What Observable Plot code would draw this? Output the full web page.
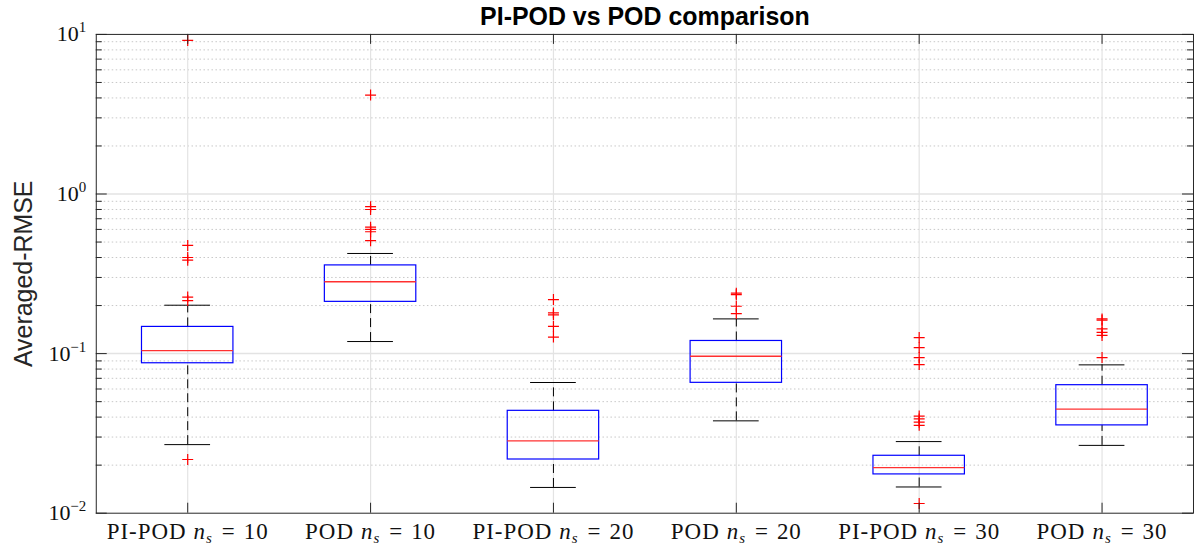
<!DOCTYPE html>
<html>
<head>
<meta charset="utf-8">
<script src="https://cdn.jsdelivr.net/npm/d3@7"></script>
<script src="https://cdn.jsdelivr.net/npm/@observablehq/plot@0.6"></script>
<style>
  html, body { margin: 0; padding: 0; background: #fff; overflow: hidden; }
  #chart svg { display: block; }
</style>
</head>
<body>
<div id="chart"></div>
<script>
// ---- data ----
const categories = ["PI-POD n_s = 10", "POD n_s = 10", "PI-POD n_s = 20", "POD n_s = 20", "PI-POD n_s = 30", "POD n_s = 30"];
const q1          = [0.0870, 0.211, 0.0217, 0.0656, 0.0175, 0.0355];
const medians     = [0.1044, 0.282, 0.0284, 0.0962, 0.0193, 0.0449];
const q3          = [0.147,  0.357, 0.0438, 0.120,  0.0229, 0.0634];
const whiskerLow  = [0.0269, 0.119, 0.0145, 0.0379, 0.0146, 0.0266];
const whiskerHigh = [0.201,  0.424, 0.0659, 0.165,  0.0281, 0.0850];
const outliers1 = [9.17, 0.476, 0.400, 0.385, 0.226, 0.215, 0.0217];
const outliers2 = [4.17, 0.833, 0.800, 0.620, 0.600, 0.580, 0.510];
const outliers3 = [0.218, 0.180, 0.175, 0.148, 0.127];
const outliers4 = [0.239, 0.234, 0.198, 0.178];
const outliers5 = [0.126, 0.109, 0.0944, 0.0854, 0.0406, 0.0390, 0.0372, 0.0355, 0.0115];
const outliers6 = [0.165, 0.162, 0.143, 0.136, 0.130, 0.0944];
const yTicks = [0.01, 0.1, 1, 10];
const yTickLabels = [["10", "\u22122"], ["10", "\u22121"], ["10", "0"], ["10", "1"]];
const title = "PI-POD vs POD comparison";
const yLabel = "Averaged-RMSE";

// ---- layout ----
const W = 1197, H = 550, ML = 96, MR = 1, MT = 34, MB = 36;
const pw = W - ML - MR, ph = H - MT - MB;
const step = pw / 6;
const decadePx = ph / 3;
const xpx = px => px / step;
const yUp = (v, px) => v * Math.pow(10, px / decadePx);

const idx = categories.map((_, i) => i);
const allOutliers = [outliers1, outliers2, outliers3, outliers4, outliers5, outliers6];
const outlierRows = allOutliers.flatMap((arr, i) => arr.map(v => ({pos: i + 1, v})));

const minors = [];
for (let e = -2; e <= 0; e++) for (let k = 2; k <= 9; k++) minors.push(k * Math.pow(10, e));

const axisColor = "#262626";
const plusSymbol = {
  draw(ctx, size) {
    const r = Math.sqrt(size / Math.PI);
    ctx.moveTo(-r, 0); ctx.lineTo(r, 0);
    ctx.moveTo(0, -r); ctx.lineTo(0, r);
  }
};

const chart = Plot.plot({
  width: W, height: H,
  marginLeft: ML, marginRight: MR, marginTop: MT, marginBottom: MB,
  style: {background: "#fff", fontFamily: "Liberation Serif"},
  x: {type: "linear", domain: [0.5, 6.5], axis: null},
  y: {type: "log", domain: [0.01, 10], axis: null},
  marks: [
    // grid
    Plot.ruleY(minors, {stroke: "#c8c8c8", strokeDasharray: "1.5,2.5", strokeWidth: 1}),
    Plot.ruleY([0.1, 1], {stroke: "#e3e3e3", strokeWidth: 1.5}),
    Plot.ruleX(idx, {x: i => i + 1, stroke: "#e3e3e3", strokeWidth: 1.2}),
    // whiskers (dashed)
    Plot.ruleX(idx, {x: i => i + 1, y1: i => q3[i], y2: i => whiskerHigh[i], stroke: "black", strokeDasharray: "9,5"}),
    Plot.ruleX(idx, {x: i => i + 1, y1: i => whiskerLow[i], y2: i => q1[i], stroke: "black", strokeDasharray: "9,5"}),
    // caps
    Plot.ruleY(idx, {y: i => whiskerHigh[i], x1: i => i + 1 - 0.125, x2: i => i + 1 + 0.125, stroke: "black"}),
    Plot.ruleY(idx, {y: i => whiskerLow[i], x1: i => i + 1 - 0.125, x2: i => i + 1 + 0.125, stroke: "black"}),
    // boxes
    Plot.rect(idx, {x1: i => i + 1 - 0.25, x2: i => i + 1 + 0.25, y1: i => q1[i], y2: i => q3[i], fill: "none", stroke: "#0000ff", strokeWidth: 1.2}),
    Plot.ruleY(idx, {y: i => medians[i], x1: i => i + 1 - 0.25, x2: i => i + 1 + 0.25, stroke: "#ff3030", strokeWidth: 1.4}),
    // outliers
    Plot.dot(outlierRows, {x: "pos", y: "v", symbol: plusSymbol, r: 5.5, fill: "none", stroke: "#ff0000", strokeWidth: 1.2}),
    // inner ticks: left / right
    Plot.ruleY(yTicks, {x1: 0.5, x2: 0.5 + xpx(11), stroke: axisColor}),
    Plot.ruleY(minors, {x1: 0.5, x2: 0.5 + xpx(6), stroke: axisColor}),
    Plot.ruleY(yTicks, {x1: 6.5 - xpx(11), x2: 6.5, stroke: axisColor}),
    Plot.ruleY(minors, {x1: 6.5 - xpx(6), x2: 6.5, stroke: axisColor}),
    // inner ticks: bottom / top
    Plot.ruleX(idx, {x: i => i + 1, y1: 0.01, y2: yUp(0.01, 10), stroke: axisColor}),
    Plot.ruleX(idx, {x: i => i + 1, y1: yUp(10, -10), y2: 10, stroke: axisColor}),
    // frame
    Plot.frame({stroke: axisColor, strokeWidth: 1}),
    // tick labels
    Plot.text(idx, {x: i => i + 1, y: 0.01, text: i => categories[i], dy: 19, fontSize: 23, fill: "#111", textAnchor: "middle", lineAnchor: "middle", className: "xlab"}),
    Plot.text(yTicks, {y: d => d, x: 0.5, text: (d, i) => yTickLabels[i].join("^"), dx: -10, textAnchor: "end", lineAnchor: "middle", fontSize: 22, fill: "#111", className: "ylab"}),
    // axis title & chart title
    Plot.text([yLabel], {frameAnchor: "left", dx: -72, rotate: -90, textAnchor: "middle", lineAnchor: "middle", fontSize: 25, fontFamily: "Liberation Sans", fill: "#262626"}),
    Plot.text([title], {frameAnchor: "top", dy: -17, textAnchor: "middle", lineAnchor: "middle", fontSize: 25, fontWeight: "bold", fontFamily: "Liberation Sans", fill: "#000"})
  ]
});

document.getElementById("chart").appendChild(chart);

// rich text: italic n with subscript s, superscripted exponents
const NS = "http://www.w3.org/2000/svg";
function tspan(parent, txt, attrs) {
  const t = document.createElementNS(NS, "tspan");
  t.textContent = txt;
  for (const k in attrs) t.setAttribute(k, attrs[k]);
  parent.appendChild(t);
}
chart.querySelectorAll(".xlab text").forEach(el => {
  const s = el.textContent; // e.g. "PI-POD n_s = 10"
  const m = s.match(/^(.*) n_s = (\d+)$/);
  if (!m) return;
  el.textContent = "";
  el.setAttribute("style", "white-space: pre");
  el.setAttribute("letter-spacing", "1");
  tspan(el, m[1], {});
  tspan(el, "n", {"font-style": "italic", "dx": 7});
  tspan(el, "s", {"font-style": "italic", "font-size": 15, "dy": 4});
  tspan(el, "=", {"dy": -4, "dx": 9});
  tspan(el, m[2], {"dx": 8});
});
chart.querySelectorAll(".ylab text").forEach(el => {
  const [base, ex] = el.textContent.split("^");
  el.textContent = "";
  tspan(el, base, {});
  tspan(el, ex, {"font-size": 15, "dy": -9});
});
</script>
</body>
</html>
